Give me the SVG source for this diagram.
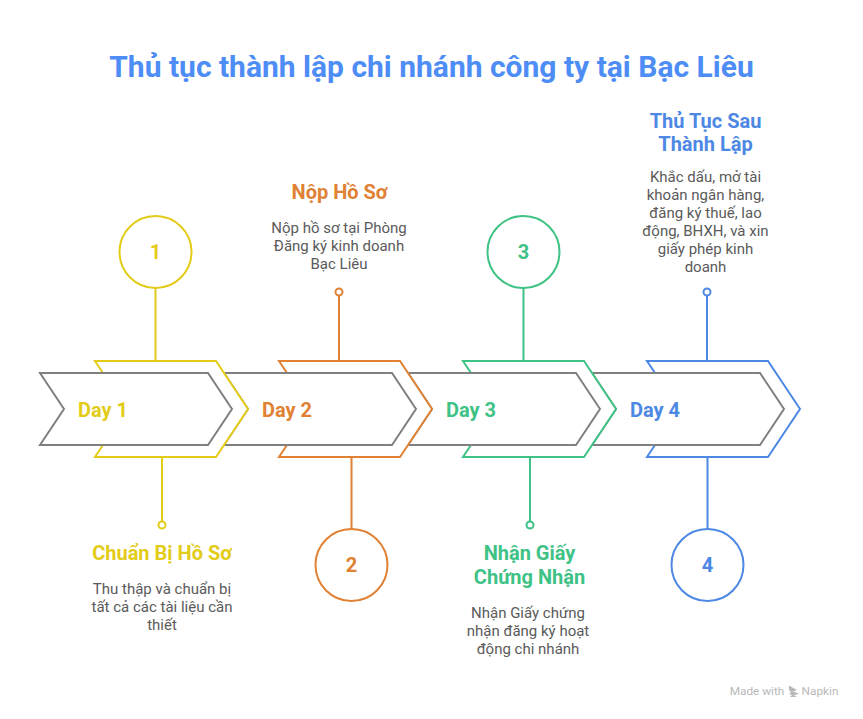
<svg xmlns="http://www.w3.org/2000/svg" width="863" height="719" viewBox="0 0 863 719">
<style>
text{font-family:Roboto,"Noto Sans",sans-serif;text-anchor:middle}
.t{font-size:30px;font-weight:700;fill:#4e8df5}
.h{font-size:20px;font-weight:700}
.b{font-size:15px;fill:#5a5a5a}
.n{font-size:20px;font-weight:700}
.d{font-size:20px;font-weight:700;text-anchor:start}
.g{fill:#fff;stroke:#808080;stroke-width:2;stroke-linejoin:miter}
.o{fill:#fff;stroke-width:2}
.l{fill:none;stroke-width:2}
.y{stroke:#e3cc18}.yf{fill:#e3cc18}
.r{stroke:#e08133}.rf{fill:#e08133}
.e{stroke:#3ec285}.ef{fill:#3ec285}
.u{stroke:#4d88e4}.uf{fill:#4d88e4}
.w{font-size:11.800px;fill:#b9b9b9}
</style>
<text class="t" x="431.500" y="76.500">Thủ tục thành lập chi nhánh công ty tại Bạc Liêu</text>
<g id="connectors">
<path class="l y" d="M155.500 288V361M162 457V521"/><circle class="o y" cx="162" cy="525" r="3.500"/>
<path class="l r" d="M339 296V361M351.500 457V529"/><circle class="o r" cx="339" cy="292" r="3.500"/>
<path class="l e" d="M523.500 288V361M530 457V521"/><circle class="o e" cx="530" cy="525" r="3.500"/>
<path class="l u" d="M707 296V361M707.500 457V529"/><circle class="o u" cx="707" cy="292" r="3.500"/>
</g>
<g id="step4">
<path class="o u" d="M647 361H768L800 409L768 457H647L655 445V373Z"/>
<path class="g" d="M592 373H760L784 409L760 445H592L616 409Z"/>
<text class="d uf" x="630" y="416.500">Day 4</text>
<circle class="o u" cx="707.500" cy="565" r="36"/><text class="n uf" x="707.500" y="572">4</text>
<text class="h uf" x="705.500" y="127.500">Thủ Tục Sau</text><text class="h uf" x="705.500" y="151">Thành Lập</text>
<text class="b" x="705.500" y="182">Khắc dấu, mở tài</text><text class="b" x="705.500" y="200">khoản ngân hàng,</text><text class="b" x="705.500" y="218">đăng ký thuế, lao</text><text class="b" x="705.500" y="236">động, BHXH, và xin</text><text class="b" x="705.500" y="254">giấy phép kinh</text><text class="b" x="705.500" y="272">doanh</text>
</g>
<g id="step3">
<path class="o e" d="M463 361H584L616 409L584 457H463L471 445V373Z"/>
<path class="g" d="M408 373H576L600 409L576 445H408L432 409Z"/>
<text class="d ef" x="446" y="416.500">Day 3</text>
<circle class="o e" cx="523.500" cy="252" r="36"/><text class="n ef" x="523.500" y="259">3</text>
<text class="h ef" x="529.500" y="560">Nhận Giấy</text><text class="h ef" x="529.500" y="584">Chứng Nhận</text>
<text class="b" x="528" y="618">Nhận Giấy chứng</text><text class="b" x="528" y="636">nhận đăng ký hoạt</text><text class="b" x="528" y="654">động chi nhánh</text>
</g>
<g id="step2">
<path class="o r" d="M279 361H400L432 409L400 457H279L287 445V373Z"/>
<path class="g" d="M224 373H392L416 409L392 445H224L248 409Z"/>
<text class="d rf" x="262" y="416.500">Day 2</text>
<circle class="o r" cx="351.500" cy="565" r="36"/><text class="n rf" x="351.500" y="572">2</text>
<text class="h rf" x="339.500" y="199">Nộp Hồ Sơ</text>
<text class="b" x="339" y="233">Nộp hồ sơ tại Phòng</text><text class="b" x="339" y="251">Đăng ký kinh doanh</text><text class="b" x="339" y="269">Bạc Liêu</text>
</g>
<g id="step1">
<path class="o y" d="M95 361H216L248 409L216 457H95L103 445V373Z"/>
<path class="g" d="M40 373H208L232 409L208 445H40L64 409Z"/>
<text class="d yf" x="78" y="416.500">Day 1</text>
<circle class="o y" cx="155.500" cy="252" r="36"/><text class="n yf" x="155.500" y="259">1</text>
<text class="h yf" x="162" y="560">Chuẩn Bị Hồ Sơ</text>
<text class="b" x="162" y="594">Thu thập và chuẩn bị</text><text class="b" x="162" y="612">tất cả các tài liệu cần</text><text class="b" x="162" y="630">thiết</text>
</g>
<g id="watermark">
<text class="w" x="757" y="695">Made with</text>
<path d="M789 685.500L797 690L793 691.500L799 693.500L794 695.500L797 697L790 697L792 695L789 694L791 692L789 690Z" fill="#b9b9b9"/>
<text class="w" x="820" y="695">Napkin</text>
</g>
</svg>
